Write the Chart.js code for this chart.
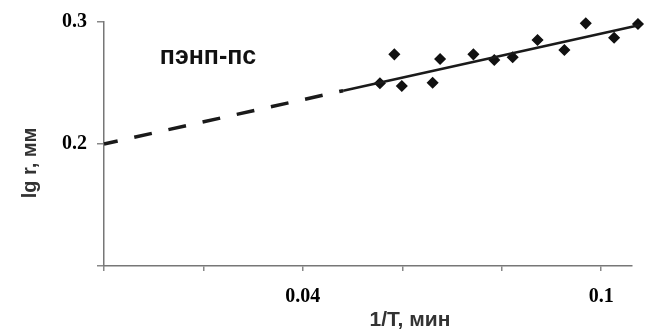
<!DOCTYPE html>
<html>
<head>
<meta charset="utf-8">
<script src="https://cdn.jsdelivr.net/npm/chart.js@4/dist/chart.umd.min.js"></script>
<style>
  html, body { margin: 0; padding: 0; background: #fff; }
  #wrap { width: 649px; height: 331px; }
</style>
</head>
<body>
<div id="wrap"><canvas id="chart" width="649" height="331"></canvas></div>
<script>
// measured points (1/T, lg r)
const invT = [0.0555, 0.0584, 0.0599, 0.0661, 0.0676, 0.0743, 0.0785, 0.0822, 0.0872, 0.0926, 0.0969, 0.1026, 0.1074];
const lgR  = [0.2498, 0.2735, 0.2475, 0.2502, 0.2697, 0.2735, 0.2689, 0.2711, 0.2852, 0.2770, 0.2989, 0.2871, 0.2984];

// trend line: dashed extrapolation + solid part
const dashX  = [0, 0.0481];
const dashY  = [0.2, 0.2437];
const solidX = [0.0481, 0.1078];
const solidY = [0.2437, 0.2975];

const xLabelTicks = [0.04, 0.1];
const yLabelTicks = [0.2, 0.3];

const seriesLabel = 'пэнп-пс';
const xTitle = '1/T, мин';
const yTitle = 'lg r, мм';

const toPts = (xs, ys) => xs.map((x, i) => ({ x: x, y: ys[i] }));
const hasTick = (list, v) => list.some(t => Math.abs(t - v) < 1e-6);

const textPlugin = {
    id: 'texts',
    afterDraw(chart) {
        const ctx = chart.ctx;
        ctx.save();
        ctx.fillStyle = '#111';
        ctx.textAlign = 'center';
        ctx.textBaseline = 'middle';
        ctx.font = 'bold 25px "Liberation Sans", Arial, sans-serif';
        ctx.fillText(seriesLabel, 208, 57);

        ctx.fillStyle = '#333';
        ctx.font = 'bold 21px "Liberation Sans", Arial, sans-serif';
        ctx.fillText(xTitle, 410, 320);

        ctx.font = 'bold 20px "Liberation Sans", Arial, sans-serif';
        ctx.translate(30, 163);
        ctx.rotate(-Math.PI / 2);
        ctx.fillText(yTitle, 0, 0);
        ctx.restore();
    }
};

new Chart(document.getElementById('chart'), {
    type: 'scatter',
    data: {
        datasets: [{
            data: toPts(dashX, dashY),
            showLine: true,
            borderColor: '#1a1a1a',
            borderWidth: 3.5,
            borderDash: [18, 17],
            borderDashOffset: 4,
            pointRadius: 0,
            clip: false
        }, {
            data: toPts(solidX, solidY),
            showLine: true,
            borderColor: '#1a1a1a',
            borderWidth: 2.5,
            pointRadius: 0,
            clip: false
        }, {
            data: toPts(invT, lgR),
            pointStyle: 'rectRot',
            pointRadius: 5,
            borderWidth: 1.5,
            backgroundColor: '#111',
            borderColor: '#111',
            clip: false
        }]
    },
    options: {
        responsive: false,
        animation: false,
        layout: { padding: { top: 22, right: 17, left: 0, bottom: 0 } },
        plugins: { legend: { display: false }, tooltip: { enabled: false } },
        scales: {
            x: {
                type: 'linear',
                min: 0,
                max: 0.1062,
                afterFit(scale) { scale.height = 65; },
                grid: { drawOnChartArea: false, tickLength: 5, color: '#888', lineWidth: 1.5 },
                border: { color: '#777', width: 1.5 },
                ticks: {
                    stepSize: 0.02,
                    includeBounds: false,
                    padding: 14,
                    color: '#000',
                    font: { family: '"Liberation Serif", "Times New Roman", serif', size: 20, weight: 'bold' },
                    callback: v => hasTick(xLabelTicks, v) ? String(v) : ''
                }
            },
            y: {
                type: 'linear',
                min: 0.1,
                max: 0.3,
                afterFit(scale) { scale.width = 104; },
                grid: { drawOnChartArea: false, tickLength: 7, color: '#888', lineWidth: 1.5 },
                border: { color: '#777', width: 1.5 },
                ticks: {
                    stepSize: 0.1,
                    includeBounds: false,
                    padding: 10,
                    color: '#000',
                    font: { family: '"Liberation Serif", "Times New Roman", serif', size: 20, weight: 'bold' },
                    callback: v => hasTick(yLabelTicks, v) ? v.toFixed(1) : ''
                }
            }
        }
    },
    plugins: [textPlugin]
});
</script>
</body>
</html>
